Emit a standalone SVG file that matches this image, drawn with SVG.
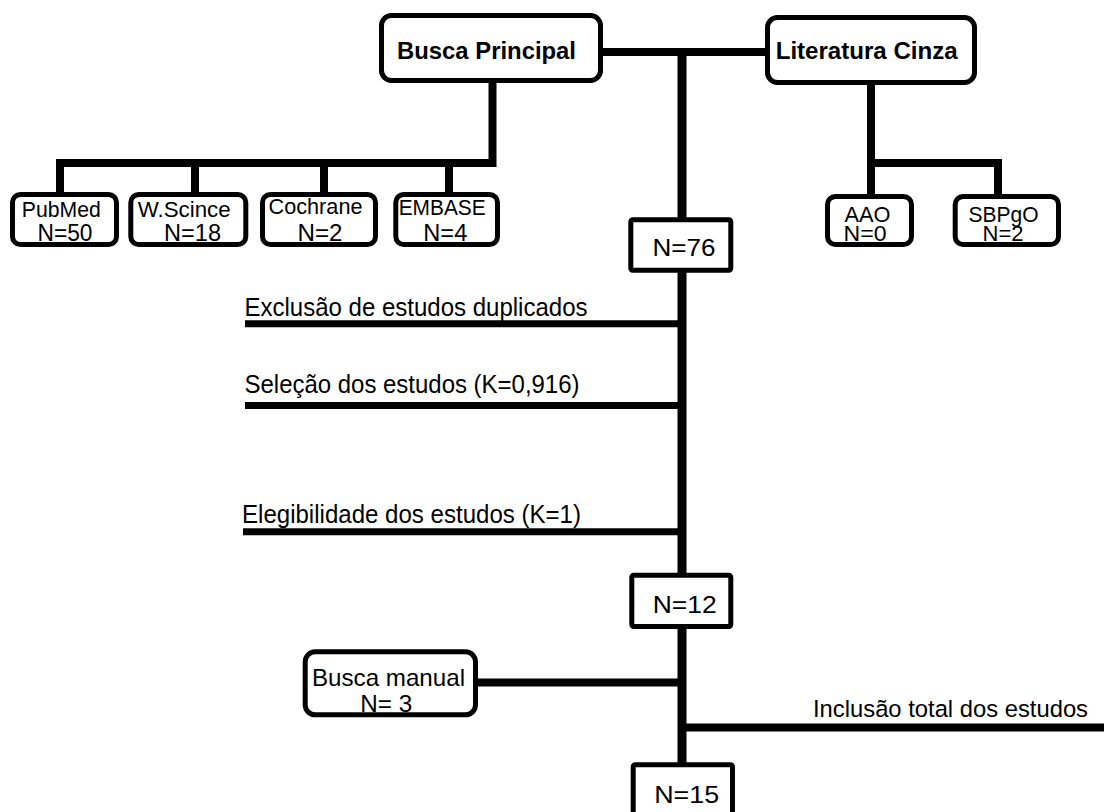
<svg xmlns="http://www.w3.org/2000/svg" width="1104" height="812" viewBox="0 0 1104 812">
<style>
.box{fill:#fff;stroke:#000;stroke-width:5}
.ln{fill:none;stroke:#000;stroke-width:8}
.lbl{font-family:"Liberation Sans",Arial,sans-serif;fill:#000}
.b{font-weight:bold;font-size:24.5px}
.m{text-anchor:middle}
</style>
<rect width="1104" height="812" fill="#fff"/>
<g id="connectors">
<line class="ln" x1="603" y1="52" x2="765" y2="52"/>
<line class="ln" x1="682" y1="52" x2="682" y2="764" style="stroke-width:9"/>
<polyline class="ln" points="492.5,83 492.5,163 60,163 60,194"/>
<line class="ln" x1="195" y1="163" x2="195" y2="194"/>
<line class="ln" x1="324" y1="163" x2="324" y2="194"/>
<line class="ln" x1="449" y1="163" x2="449" y2="194"/>
<polyline class="ln" points="871,85 871,196"/>
<polyline class="ln" points="871,163 998,163 998,196"/>
<line class="ln" x1="245" y1="323.7" x2="682" y2="323.7" style="stroke-width:7"/>
<line class="ln" x1="245" y1="405.5" x2="682" y2="405.5" style="stroke-width:7"/>
<line class="ln" x1="243" y1="531.7" x2="682" y2="531.7" style="stroke-width:7"/>
<line class="ln" x1="478" y1="682.5" x2="682" y2="682.5"/>
<line class="ln" x1="682" y1="727.5" x2="1104" y2="727.5"/>
</g>
<g id="busca-principal">
<rect class="box" x="381.5" y="15.5" width="219" height="65" rx="10"/>
<text class="lbl b m" x="486.5" y="58.5" textLength="179" lengthAdjust="spacingAndGlyphs">Busca Principal</text>
</g>
<g id="literatura-cinza">
<rect class="box" x="767.5" y="17.5" width="207" height="65" rx="10"/>
<text class="lbl b m" x="866.7" y="59" textLength="182" lengthAdjust="spacingAndGlyphs">Literatura Cinza</text>
</g>
<g id="pubmed">
<rect class="box" x="12.5" y="194.5" width="104" height="50" rx="8"/>
<text class="lbl m" x="61.3" y="216.5" font-size="21.5" textLength="79" lengthAdjust="spacingAndGlyphs">PubMed</text>
<text class="lbl m" x="65" y="240.7" font-size="24.5" textLength="55" lengthAdjust="spacingAndGlyphs">N=50</text>
</g>
<g id="wscince">
<rect class="box" x="130.8" y="194.5" width="115" height="50" rx="8"/>
<text class="lbl m" x="184.2" y="216.5" font-size="21.5" textLength="93" lengthAdjust="spacingAndGlyphs">W.Scince</text>
<text class="lbl m" x="192.5" y="240.7" font-size="24.5" textLength="57" lengthAdjust="spacingAndGlyphs">N=18</text>
</g>
<g id="cochrane">
<rect class="box" x="262.5" y="194.5" width="113" height="50" rx="8"/>
<text class="lbl m" x="315.5" y="213.5" font-size="21.5" textLength="94" lengthAdjust="spacingAndGlyphs">Cochrane</text>
<text class="lbl m" x="320" y="240.7" font-size="24.5" textLength="45" lengthAdjust="spacingAndGlyphs">N=2</text>
</g>
<g id="embase">
<rect class="box" x="395.8" y="194.5" width="101.7" height="50" rx="8"/>
<text class="lbl m" x="442.2" y="215" font-size="21.5" textLength="87" lengthAdjust="spacingAndGlyphs">EMBASE</text>
<text class="lbl m" x="445.3" y="240.7" font-size="24.5" textLength="44" lengthAdjust="spacingAndGlyphs">N=4</text>
</g>
<g id="aao">
<rect class="box" x="827.5" y="196.5" width="84" height="48" rx="8"/>
<text class="lbl m" x="867.5" y="221.7" font-size="22" textLength="46" lengthAdjust="spacingAndGlyphs">AAO</text>
<text class="lbl m" x="865" y="241" font-size="22" textLength="43" lengthAdjust="spacingAndGlyphs">N=0</text>
</g>
<g id="sbpgo">
<rect class="box" x="955.2" y="196.5" width="103.3" height="48" rx="8"/>
<text class="lbl m" x="1003.5" y="221.7" font-size="22" textLength="70" lengthAdjust="spacingAndGlyphs">SBPgO</text>
<text class="lbl m" x="1003" y="241" font-size="22" textLength="41" lengthAdjust="spacingAndGlyphs">N=2</text>
</g>
<g id="n76">
<rect class="box" x="630.8" y="219.8" width="100" height="50.4" rx="2"/>
<text class="lbl m" x="684" y="256" font-size="23.5" textLength="63" lengthAdjust="spacingAndGlyphs">N=76</text>
</g>
<g id="exclusao">
<text class="lbl" x="244.5" y="316" font-size="26" textLength="343" lengthAdjust="spacingAndGlyphs">Exclusão de estudos duplicados</text>
</g>
<g id="selecao">
<text class="lbl" x="244.5" y="393.3" font-size="26" textLength="335" lengthAdjust="spacingAndGlyphs">Seleção dos estudos (K=0,916)</text>
</g>
<g id="elegibilidade">
<text class="lbl" x="242" y="523.3" font-size="26" textLength="339" lengthAdjust="spacingAndGlyphs">Elegibilidade dos estudos (K=1)</text>
</g>
<g id="n12">
<rect class="box" x="631.8" y="575.2" width="99" height="51.3" rx="2"/>
<text class="lbl m" x="684.7" y="612.7" font-size="23.5" textLength="64" lengthAdjust="spacingAndGlyphs">N=12</text>
</g>
<g id="busca-manual">
<rect class="box" x="305.2" y="651.8" width="170.3" height="63" rx="10"/>
<text class="lbl m" x="388.5" y="685.7" font-size="24" textLength="153" lengthAdjust="spacingAndGlyphs">Busca manual</text>
<text class="lbl m" x="386.3" y="711.7" font-size="24" textLength="52" lengthAdjust="spacingAndGlyphs">N= 3</text>
</g>
<g id="inclusao">
<text class="lbl" x="813" y="717.3" font-size="24.5" textLength="275" lengthAdjust="spacingAndGlyphs">Inclusão total dos estudos</text>
</g>
<g id="n15">
<rect class="box" x="633.2" y="764.8" width="99.3" height="70" rx="2"/>
<text class="lbl m" x="686.7" y="802.7" font-size="23.5" textLength="65" lengthAdjust="spacingAndGlyphs">N=15</text>
</g>
</svg>
